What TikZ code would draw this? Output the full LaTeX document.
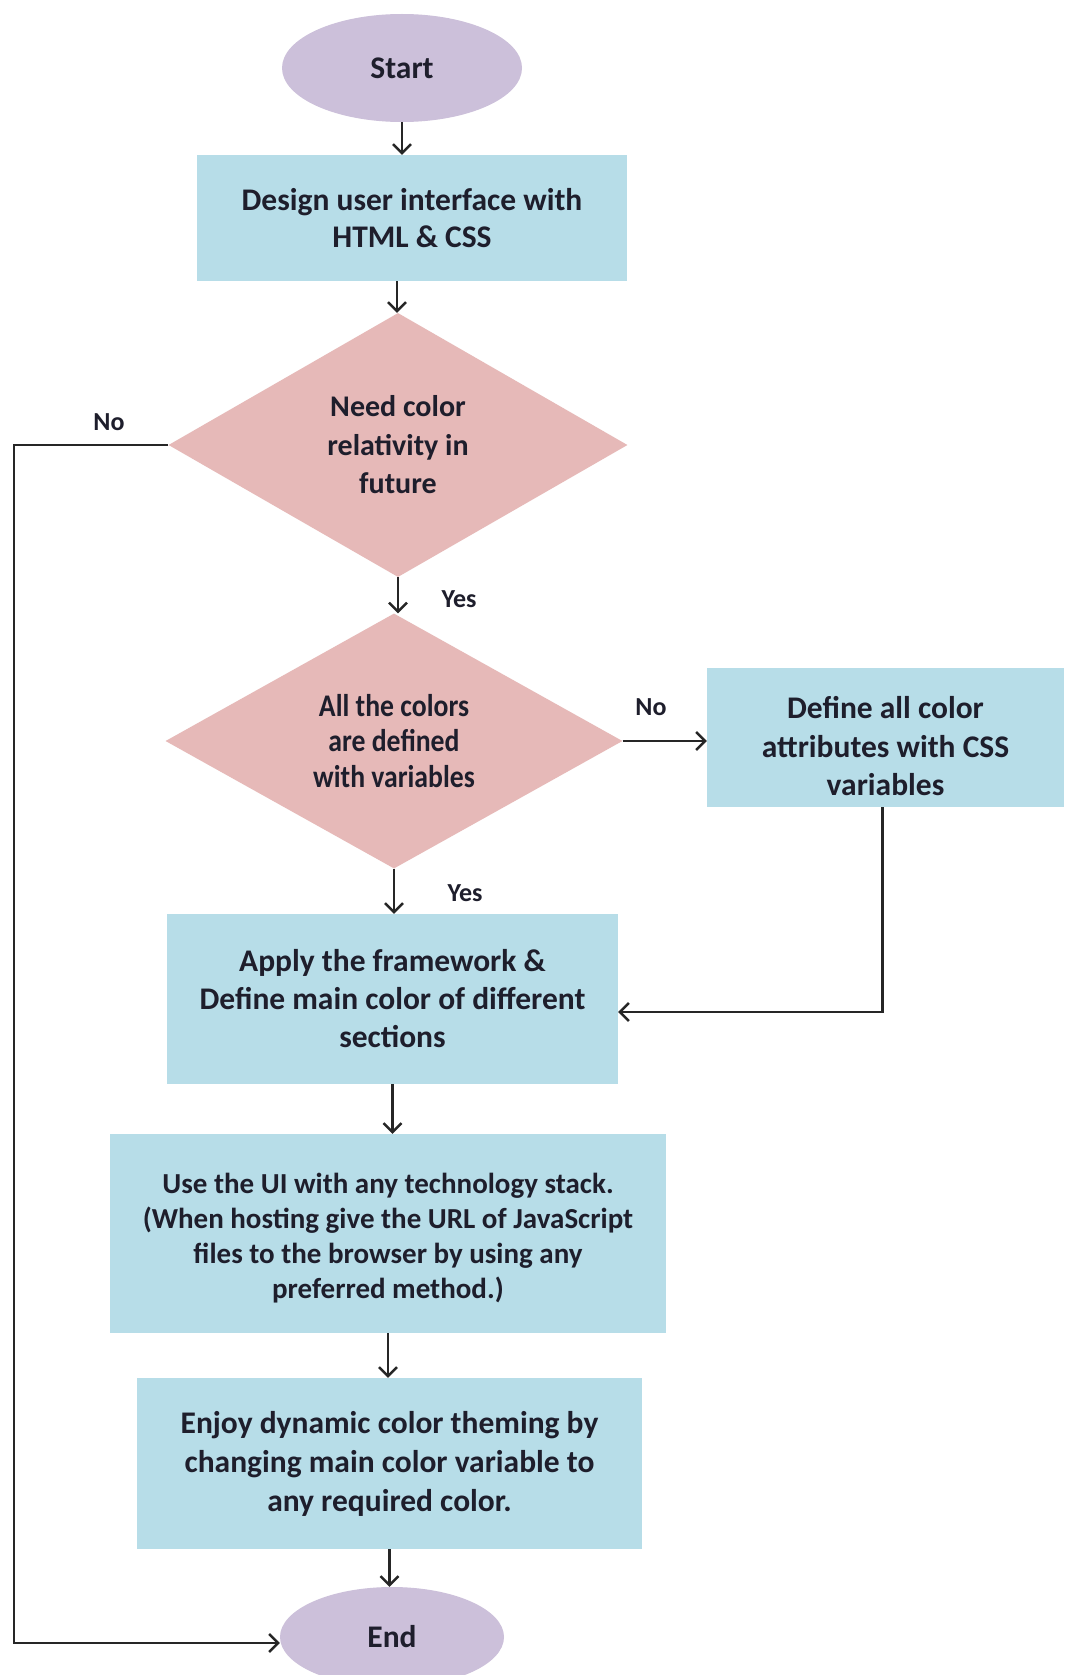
\documentclass[tikz,border=0pt]{standalone}
\usepackage{fontspec}
\setmainfont{Carlito}
\newfontfamily\condfont[FakeStretch=0.88]{Carlito}
\usetikzlibrary{shapes.geometric,arrows.meta}
\definecolor{lilac}{HTML}{CCC0DA}
\definecolor{lblue}{HTML}{B7DDE8}
\definecolor{lpink}{HTML}{E6B9B8}
\definecolor{txt}{HTML}{1E1E2C}
\tikzset{
  base/.style={inner sep=0pt, text=txt, font=\bfseries\fontsize{31.5}{37.5}\selectfont, align=center},
  term/.style={base, ellipse, fill=lilac},
  proc/.style={base, rectangle, fill=lblue},
  deci/.style={base, diamond, fill=lpink},
  arr/.style={draw=black!85, line width=2.4pt, -{Straight Barb[length=9pt,width=18pt,line width=2.4pt]}},
  lbl/.style={text=txt, font=\bfseries\fontsize{26}{30}\selectfont, inner sep=0pt}
}
\begin{document}
\begin{tikzpicture}[x=1pt,y=-1pt]
\useasboundingbox[fill=white] (0,0) rectangle (1067,1675);
\node[term, minimum width=240pt, minimum height=108pt] (start) at (402,68) {Start};
\node[proc, minimum width=430pt, minimum height=126pt] (design) at (412,218) {Design user interface with\\HTML \& CSS};
\node[deci, minimum width=459pt, minimum height=264pt, font=\bfseries\fontsize{30}{38.5}\selectfont] (d1) at (398,445) {Need color\\relativity in\\future};
\node[deci, minimum width=457pt, minimum height=255pt, font=\condfont\bfseries\fontsize{31.5}{35.5}\selectfont] (d2) at (394,741) {All the colors\\are defined\\with variables};
\node[proc, minimum width=357pt, minimum height=139pt, font=\bfseries\fontsize{31.5}{38.5}\selectfont] (define) at (885.5,737.5) {\rule{0pt}{40pt}Define all color\\attributes with CSS\\variables};
\node[proc, minimum width=451pt, minimum height=170pt, font=\bfseries\fontsize{31.5}{38}\selectfont] (apply) at (392.5,999) {Apply the framework \&\\Define main color of different\\sections};
\node[proc, minimum width=556pt, minimum height=199pt, font=\bfseries\fontsize{29}{35}\selectfont] (use) at (388,1233.5) {\rule{0pt}{29pt}Use the UI with any technology stack.\\(When hosting give the URL of JavaScript\\files to the browser by using any\\preferred method.)};
\node[proc, minimum width=505pt, minimum height=171pt, font=\bfseries\fontsize{31.5}{39}\selectfont] (enjoy) at (389.5,1463.5) {Enjoy dynamic color theming by\\changing main color variable to\\any required color.};
\node[term, minimum width=224pt, minimum height=100pt] (end) at (392,1637) {End};
\coordinate (lx) at (14,1000);
\coordinate (bendR) at (882,1012);
\draw[arr] (start.south) -- (start.south |- design.north);
\draw[arr] ([xshift=-15pt]design.south) -- ([xshift=-15pt]design.south |- d1.north);
\draw[arr] (d1.south) -- (d1.south |- d2.north);
\draw[arr] (d2.east) -- (d2.east -| define.west);
\draw[arr] (d2.south) -- (d2.south |- apply.north);
\draw[arr] ([xshift=-3pt]define.south) |- (bendR -| apply.east);
\draw[arr] (apply.south) -- (apply.south |- use.north);
\draw[arr] (use.south) -- (use.south |- enjoy.north);
\draw[arr] (enjoy.south) -- (enjoy.south |- end.north);
\draw[arr] (d1.west) -| (lx) |- ([yshift=-6pt]end.west);
\node[lbl] (no1) at (109,422) {No};
\node[lbl] (yes1) at (459,599) {Yes};
\node[lbl] (no2) at (651,707) {No};
\node[lbl] (yes2) at (465,893) {Yes};
\end{tikzpicture}
\end{document}
